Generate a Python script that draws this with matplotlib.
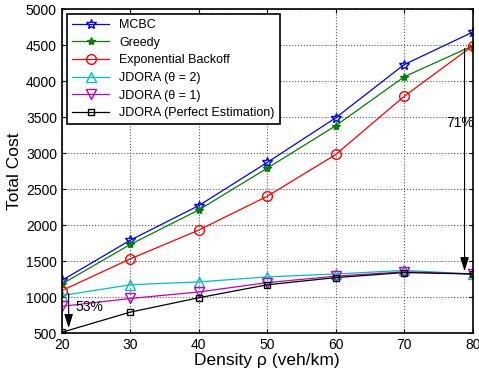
import matplotlib
matplotlib.use('Agg')
import matplotlib.pyplot as plt

plt.rcParams['font.family'] = ['Liberation Sans', 'DejaVu Sans']

density = [20, 30, 40, 50, 60, 70, 80]
mcbc = [1230, 1790, 2270, 2870, 3490, 4230, 4680]
greedy = [1180, 1730, 2210, 2790, 3380, 4060, 4490]
backoff = [1090, 1530, 1930, 2400, 2980, 3790, 4490]
jdora_t2 = [1020, 1170, 1210, 1280, 1320, 1370, 1320]
jdora_t1 = [870, 980, 1070, 1200, 1290, 1350, 1320]
jdora_pe = [510, 790, 990, 1170, 1270, 1340, 1320]

fig = plt.figure(figsize=(4.79, 3.78), dpi=100)
ax = fig.add_axes([0.129, 0.119, 0.858, 0.857])

ax.plot(density, mcbc, color='#0000ff', marker='*', ms=7, mfc='none', lw=0.9, label='MCBC')
ax.plot(density, greedy, color='#008000', marker='*', ms=6, lw=0.9, label='Greedy')
ax.plot(density, backoff, color='#ff0000', marker='o', ms=7, mfc='none', lw=0.9, label='Exponential Backoff')
ax.plot(density, jdora_t2, color='#00bfbf', marker='^', ms=7, mfc='none', lw=0.9, label='JDORA (θ = 2)')
ax.plot(density, jdora_t1, color='#bf00bf', marker='v', ms=7, mfc='none', lw=0.9, label='JDORA (θ = 1)')
ax.plot(density, jdora_pe, color='black', marker='s', ms=5, mfc='none', lw=0.9, label='JDORA (Perfect Estimation)')

# reduction arrows
arrow = dict(arrowstyle='-|>,head_length=0.7,head_width=0.22', color='black', lw=0.8, mutation_scale=12)
ax.annotate('', xy=(21, jdora_pe[0] + 20), xytext=(21, backoff[0]), arrowprops=arrow)
ax.text(22, 860, '53%', fontsize=10, va='center')
ax.annotate('', xy=(78.8, jdora_pe[-1]), xytext=(78.8, backoff[-1]), arrowprops=arrow)
ax.text(76.2, 3420, '71%', fontsize=10, va='center')

ax.set_xlim(20, 80)
ax.set_ylim(500, 5000)
ax.set_xticks(density)
ax.set_yticks(range(500, 5001, 500))
ax.tick_params(direction='in', labelsize=10, top=True, right=True, length=3)
ax.grid(True, linestyle=':', color='#555555', lw=0.8)
ax.set_xlabel('Density ρ (veh/km)', fontsize=12.5, labelpad=1)
ax.set_ylabel('Total Cost', fontsize=12.5, labelpad=3)
for s in ax.spines.values():
    s.set_linewidth(1.2)

leg = ax.legend(loc='upper left', fontsize=9, fancybox=False, edgecolor='black',
                framealpha=1, borderaxespad=0.4, handlelength=3.0, labelspacing=0.45)
leg.get_frame().set_linewidth(1.2)

fig.savefig('out.png', dpi=100)
